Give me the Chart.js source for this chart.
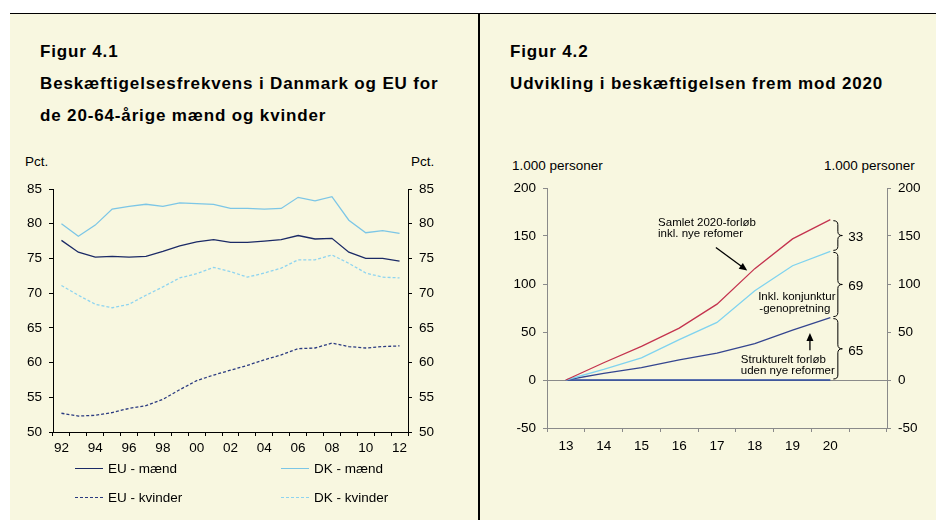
<!DOCTYPE html>
<html>
<head>
<meta charset="utf-8">
<script src="https://cdn.jsdelivr.net/npm/chart.js@4/dist/chart.umd.min.js"></script>
<style>
  body { margin: 0; width: 936px; height: 520px; background: #fff; position: relative; overflow: hidden;
         font-family: Arial, "Liberation Sans", sans-serif; color: #000; }
  #ramme { position: absolute; left: 10px; top: 13px; width: 926px; height: 507px; background: #f8f7e0; border-top: 1.5px solid #000; }
  #skille { position: absolute; left: 478px; top: 13px; width: 2px; height: 507px; background: #000; }
  .titel { position: absolute; top: 36px; font-weight: bold; font-size: 17px; line-height: 32px; letter-spacing: 0.85px; white-space: nowrap; }
  .enhed { position: absolute; font-size: 13.5px; line-height: 16px; white-space: nowrap; }
  canvas { position: absolute; }
  .leg { position: absolute; font-size: 13.5px; line-height: 16px; white-space: nowrap; }
  .leg span { display: inline-block; width: 28px; height: 0; vertical-align: middle; margin-right: 5px; position: relative; top: -1px; }
</style>
</head>
<body>
<div id="ramme"></div>
<div id="skille"></div>

<div class="titel" style="left:40px">Figur 4.1<br>Beskæftigelsesfrekvens i Danmark og EU for<br>de 20-64-årige mænd og kvinder</div>
<div class="titel" style="left:510px">Figur 4.2<br>Udvikling i beskæftigelsen frem mod 2020</div>

<div class="enhed" style="left:25px;top:154px">Pct.</div>
<div class="enhed" style="left:411px;top:154px">Pct.</div>
<div class="enhed" style="left:512px;top:158px">1.000 personer</div>
<div class="enhed" style="left:824px;top:158px">1.000 personer</div>

<canvas id="fig1" width="460" height="320" style="left:10px;top:150px"></canvas>
<canvas id="fig2" width="455" height="320" style="left:481px;top:150px"></canvas>
<div id="legende"></div>

<script>
// Figur 4.1 - beskæftigelsesfrekvens, pct.
const aarstal = ['92','93','94','95','96','97','98','99','00','01','02','03','04','05','06','07','08','09','10','11','12'];
const euMaend   = [77.6, 75.9, 75.2, 75.3, 75.2, 75.3, 76.0, 76.8, 77.4, 77.7, 77.3, 77.3, 77.5, 77.7, 78.3, 77.8, 77.9, 75.9, 75.0, 75.0, 74.6];
const dkMaend   = [80.0, 78.2, 79.8, 82.1, 82.5, 82.8, 82.5, 83.0, 82.9, 82.8, 82.2, 82.2, 82.1, 82.2, 83.8, 83.3, 83.9, 80.5, 78.7, 79.0, 78.6];
const euKvinder = [52.7, 52.3, 52.4, 52.8, 53.4, 53.8, 54.7, 56.1, 57.4, 58.2, 58.9, 59.6, 60.4, 61.1, 62.0, 62.1, 62.8, 62.3, 62.1, 62.3, 62.4];
const dkKvinder = [71.1, 69.7, 68.4, 67.9, 68.4, 69.7, 70.9, 72.2, 72.8, 73.7, 73.1, 72.3, 72.9, 73.6, 74.8, 74.8, 75.5, 74.3, 72.9, 72.3, 72.2];
const fig1Min = 50, fig1Max = 85, fig1Trin = 5;

// Figur 4.2 - udvikling i beskæftigelsen, 1.000 personer
const aar2 = ['13','14','15','16','17','18','19','20',''];
const samlet      = [0, 18, 35, 54, 79, 116, 147, 167];
const konjunktur  = [0, 11, 23, 42, 60, 93, 119, 134];
const strukturelt = [0, 7, 13, 21, 28, 38, 52, 65];
const nulLinje    = [0, 0, 0, 0, 0, 0, 0, 0];
const fig2Min = -50, fig2Max = 200, fig2Trin = 50;

Chart.defaults.font.family = 'Arial, "Liberation Sans", sans-serif';
Chart.defaults.font.size = 13.5;
Chart.defaults.color = '#000';

const fastBredde = (w) => (s) => { s.width = w; s.paddingTop = 0; s.paddingBottom = 0; };
const fastHoejde = (h) => (s) => { s.height = h; s.paddingLeft = 0; s.paddingRight = 0; };

function yAkse(pos, w, min, max, trin, farve) {
  return {
    position: pos, min: min, max: max,
    afterFit: fastBredde(w),
    border: { display: true, color: farve, width: 1 },
    grid: { drawOnChartArea: false, color: farve, tickLength: 4 },
    ticks: { stepSize: trin, padding: 7, color: '#000' }
  };
}

function xAkse(h, labels, farve, pad, vis) {
  return {
    offset: true, afterFit: fastHoejde(h),
    border: { display: true, color: farve, width: 1 },
    grid: { drawOnChartArea: false, offset: true, color: farve, tickLength: 4 },
    ticks: { autoSkip: false, maxRotation: 0, padding: pad,
             callback: (v, i) => vis(i) ? labels[i] : '' }
  };
}

const linje = (label, data, farve, streg) => ({
  label: label, data: data, borderColor: farve, backgroundColor: farve,
  borderWidth: 1.3, borderDash: streg || [], pointRadius: 0, tension: 0
});

const fig1 = new Chart(document.getElementById('fig1'), {
  type: 'line',
  data: {
    labels: aarstal,
    datasets: [
      linje('EU - mænd', euMaend, '#1b2a66'),
      linje('DK - mænd', dkMaend, '#7cc6e6'),
      linje('EU - kvinder', euKvinder, '#2a3a80', [3, 2]),
      linje('DK - kvinder', dkKvinder, '#8ed4f0', [3, 2])
    ]
  },
  options: {
    responsive: false, animation: false, devicePixelRatio: 1,
    layout: { padding: { top: 39, left: 0, right: 0, bottom: 0 } },
    plugins: { legend: { display: false }, tooltip: { enabled: false } },
    scales: {
      x: xAkse(38, aarstal, '#000', 4, i => i % 2 === 0),
      y: yAkse('left', 43, fig1Min, fig1Max, fig1Trin, '#000'),
      y2: yAkse('right', 62, fig1Min, fig1Max, fig1Trin, '#000')
    }
  }
});

// legende under figur 4.1, bygget fra datasættene
const legPos = [[75, 461], [281, 461], [75, 490], [281, 490]];
fig1.data.datasets.forEach((d, i) => {
  const el = document.createElement('div');
  el.className = 'leg';
  el.style.left = legPos[i][0] + 'px';
  el.style.top = legPos[i][1] + 'px';
  const s = document.createElement('span');
  s.style.borderTop = '1.3px ' + (d.borderDash.length ? 'dashed ' : 'solid ') + d.borderColor;
  el.appendChild(s);
  el.appendChild(document.createTextNode(d.label));
  document.getElementById('legende').appendChild(el);
});

// nul-linje og tekster i figur 4.2
const noter = {
  id: 'noter',
  beforeDatasetsDraw(chart) {
    const { ctx, chartArea, scales: { y } } = chart;
    const y0 = Math.round(y.getPixelForValue(0)) + 0.5;
    ctx.save();
    ctx.strokeStyle = '#8a8a8a';
    ctx.lineWidth = 1;
    ctx.beginPath();
    ctx.moveTo(chartArea.left, y0);
    ctx.lineTo(chartArea.right, y0);
    ctx.stroke();
    ctx.restore();
  },
  afterDatasetsDraw(chart) {
    const { ctx, scales: { x, y } } = chart;
    const px = i => x.getPixelForValue(i);
    const py = v => y.getPixelForValue(v);
    ctx.save();
    ctx.fillStyle = '#000';
    ctx.strokeStyle = '#000';
    ctx.textBaseline = 'middle';
    ctx.font = '11.5px Arial, "Liberation Sans", sans-serif';
    const tekst = (s, i, v) => ctx.fillText(s, px(i), py(v));
    tekst('Samlet 2020-forløb', 2.44, 164);
    tekst('inkl. nye refomer', 2.44, 152);
    tekst('Inkl. konjunktur', 5.09, 87);
    tekst('-genopretning', 5.12, 74.5);
    tekst('Strukturelt forløb', 4.63, 21.5);
    tekst('uden nye reformer', 4.63, 10);

    const pil = (i1, v1, i2, v2) => {
      const x1 = px(i1), y1 = py(v1), x2 = px(i2), y2 = py(v2);
      const a = Math.atan2(y2 - y1, x2 - x1);
      ctx.lineWidth = 1.3;
      ctx.beginPath();
      ctx.moveTo(x1, y1);
      ctx.lineTo(x2 - 6 * Math.cos(a), y2 - 6 * Math.sin(a));
      ctx.stroke();
      ctx.beginPath();
      ctx.moveTo(x2, y2);
      ctx.lineTo(x2 - 8 * Math.cos(a) + 3.5 * Math.sin(a), y2 - 8 * Math.sin(a) - 3.5 * Math.cos(a));
      ctx.lineTo(x2 - 8 * Math.cos(a) - 3.5 * Math.sin(a), y2 - 8 * Math.sin(a) + 3.5 * Math.cos(a));
      ctx.closePath();
      ctx.fill();
    };
    pil(3.97, 138, 4.80, 114);
    pil(6.46, 31, 6.46, 49);

    // krøllede parenteser ved 2020 med forskellene
    const sidst = samlet.length - 1;
    const klamme = (v1, v2, tal) => {
      const x0 = px(sidst + 0.08), w = 9;
      const yt = py(v1) + 1, yb = py(v2) - 1;
      const xm = x0 + w / 2, mid = (yt + yb) / 2, r = Math.min(4, (yb - yt) / 4);
      ctx.lineWidth = 1;
      ctx.beginPath();
      ctx.moveTo(x0, yt);
      ctx.quadraticCurveTo(xm, yt, xm, yt + r);
      ctx.lineTo(xm, mid - r);
      ctx.quadraticCurveTo(xm, mid, x0 + w, mid);
      ctx.quadraticCurveTo(xm, mid, xm, mid + r);
      ctx.lineTo(xm, yb - r);
      ctx.quadraticCurveTo(xm, yb, x0, yb);
      ctx.stroke();
      ctx.font = '13.5px Arial, "Liberation Sans", sans-serif';
      ctx.fillText(String(tal), x0 + w + 6, mid + 2);
    };
    klamme(samlet[sidst], konjunktur[sidst], samlet[sidst] - konjunktur[sidst]);
    klamme(konjunktur[sidst], strukturelt[sidst], konjunktur[sidst] - strukturelt[sidst]);
    klamme(strukturelt[sidst], 0, strukturelt[sidst]);
    ctx.restore();
  }
};

new Chart(document.getElementById('fig2'), {
  type: 'line',
  data: {
    labels: aar2,
    datasets: [
      linje('Samlet 2020-forløb inkl. nye refomer', samlet, '#c4344f'),
      linje('Inkl. konjunkturgenopretning', konjunktur, '#7fd3ef'),
      linje('Strukturelt forløb uden nye reformer', strukturelt, '#34458f'),
      Object.assign(linje('Basis', nulLinje, '#2746a0'), { borderWidth: 1.6 })
    ]
  },
  options: {
    responsive: false, animation: false, devicePixelRatio: 1,
    layout: { padding: { top: 38, left: 0, right: 0, bottom: 0 } },
    plugins: { legend: { display: false }, tooltip: { enabled: false } },
    scales: {
      x: xAkse(42, aar2, '#8a8a8a', 6, i => true),
      y: yAkse('left', 66, fig2Min, fig2Max, fig2Trin, '#8a8a8a'),
      y2: yAkse('right', 49, fig2Min, fig2Max, fig2Trin, '#8a8a8a')
    }
  },
  plugins: [noter]
});
</script>
</body>
</html>
